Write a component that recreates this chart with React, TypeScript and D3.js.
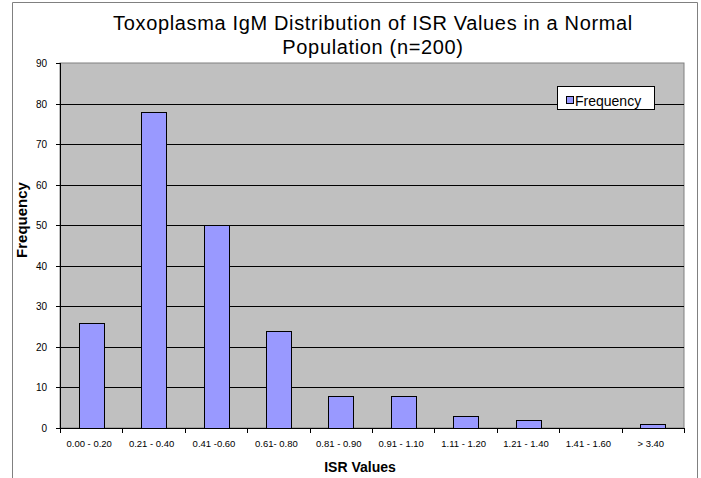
import React, { useEffect, useRef } from 'react';
import * as d3 from 'd3';

const categories = [
  '0.00 - 0.20',
  '0.21 - 0.40',
  '0.41 -0.60',
  '0.61- 0.80',
  '0.81 - 0.90',
  '0.91 - 1.10',
  '1.11 - 1.20',
  '1.21 - 1.40',
  '1.41 - 1.60',
  '> 3.40',
];
const frequency = [26, 78, 50, 24, 8, 8, 3, 2, 0, 1];
const yTicks = [0, 10, 20, 30, 40, 50, 60, 70, 80, 90];

const titleLines = [
  'Toxoplasma IgM Distribution of ISR Values in a Normal',
  'Population (n=200)',
];

export default function App() {
  const svgRef = useRef<SVGSVGElement>(null);

  useEffect(() => {
    if (!svgRef.current) return;
    const svg = d3.select(svgRef.current);
    const width = 701;
    const height = 478;
    const plot = { left: 60, right: 684, top: 63, bottom: 428 };
    const font = 'Liberation Sans, Arial, sans-serif';
    const narrow = 'Liberation Sans Narrow, Liberation Sans, Arial, sans-serif';

    svg.selectAll('*').remove();
    svg.attr('width', width).attr('height', height);

    svg.append('rect')
      .attr('width', width).attr('height', height)
      .attr('fill', '#fff');

    // chart area border (open at the bottom)
    svg.append('path')
      .attr('d', `M12.5,${height} V2.5 H697.5 V${height}`)
      .attr('fill', 'none')
      .attr('stroke', '#808080');

    const x = d3.scaleBand<string>()
      .domain(categories)
      .range([plot.left, plot.right])
      .paddingInner(0.6)
      .paddingOuter(0.3);

    const y = d3.scaleLinear()
      .domain([0, 90])
      .range([plot.bottom, plot.top]);

    const rows = categories.map((c, i) => ({ c, v: frequency[i] }));

    // plot background
    svg.append('rect')
      .attr('x', plot.left).attr('y', plot.top)
      .attr('width', plot.right - plot.left)
      .attr('height', plot.bottom - plot.top)
      .attr('fill', '#c0c0c0')
      .attr('stroke', '#808080');

    // gridlines
    svg.append('g')
      .selectAll('line')
      .data(yTicks.filter(d => d > 0 && d < 90))
      .enter()
      .append('line')
      .attr('x1', plot.left).attr('x2', plot.right)
      .attr('y1', d => Math.round(y(d)) + 0.5)
      .attr('y2', d => Math.round(y(d)) + 0.5)
      .attr('stroke', '#000');

    // bars
    svg.append('g')
      .selectAll('rect')
      .data(rows.filter(d => d.v > 0))
      .enter()
      .append('rect')
      .attr('x', d => Math.round(x(d.c)!) + 0.5)
      .attr('y', d => Math.round(y(d.v)) + 0.5)
      .attr('width', Math.round(x.bandwidth()))
      .attr('height', d => Math.round(y(0)) - Math.round(y(d.v)))
      .attr('fill', '#9999ff')
      .attr('stroke', '#000');

    // y axis
    const yAxis = svg.append('g');
    yAxis.append('line')
      .attr('x1', plot.left + 0.5).attr('x2', plot.left + 0.5)
      .attr('y1', plot.top).attr('y2', plot.bottom)
      .attr('stroke', '#000');
    yTicks.forEach(t => {
      const ty = Math.round(y(t)) + 0.5;
      yAxis.append('line')
        .attr('x1', plot.left - 4).attr('x2', plot.left)
        .attr('y1', ty).attr('y2', ty)
        .attr('stroke', '#000');
      yAxis.append('text')
        .attr('x', 47).attr('y', ty + 3.5)
        .attr('text-anchor', 'end')
        .attr('font-family', narrow)
        .attr('font-size', 10)
        .text(t);
    });

    // x axis
    const xAxis = svg.append('g');
    xAxis.append('line')
      .attr('x1', plot.left).attr('x2', plot.right)
      .attr('y1', plot.bottom + 0.5).attr('y2', plot.bottom + 0.5)
      .attr('stroke', '#000');
    const step = x.step();
    d3.range(categories.length + 1).forEach(i => {
      const tx = Math.round(plot.left + i * step) + 0.5;
      xAxis.append('line')
        .attr('x1', tx).attr('x2', tx)
        .attr('y1', plot.bottom).attr('y2', plot.bottom + 5)
        .attr('stroke', '#000');
    });
    categories.forEach(c => {
      xAxis.append('text')
        .attr('x', x(c)! + x.bandwidth() / 2 - 2)
        .attr('y', 447)
        .attr('text-anchor', 'middle')
        .attr('font-family', narrow)
        .attr('font-size', 9.5)
        .text(c);
    });

    // titles
    titleLines.forEach((line, i) => {
      svg.append('text')
        .attr('x', 373)
        .attr('y', 30 + i * 24)
        .attr('text-anchor', 'middle')
        .attr('font-family', font)
        .attr('font-size', 20)
        .attr('letter-spacing', 0.65)
        .text(line);
    });

    svg.append('text')
      .attr('x', 360)
      .attr('y', 472)
      .attr('text-anchor', 'middle')
      .attr('font-family', font)
      .attr('font-weight', 'bold')
      .attr('font-size', 14)
      .text('ISR Values');

    svg.append('text')
      .attr('transform', 'translate(27,220) rotate(-90)')
      .attr('text-anchor', 'middle')
      .attr('font-family', font)
      .attr('font-weight', 'bold')
      .attr('font-size', 15)
      .text('Frequency');

    // legend
    const legend = svg.append('g');
    legend.append('rect')
      .attr('x', 557.5).attr('y', 86.5)
      .attr('width', 97).attr('height', 23)
      .attr('fill', '#fff')
      .attr('stroke', '#000');
    legend.append('rect')
      .attr('x', 566.5).attr('y', 96.5)
      .attr('width', 7).attr('height', 7)
      .attr('fill', '#9999ff')
      .attr('stroke', '#000');
    legend.append('text')
      .attr('x', 575).attr('y', 106)
      .attr('font-family', font)
      .attr('font-size', 14)
      .text('Frequency');
  }, []);

  return (
    <div style={{ position: 'absolute', left: 0, top: 0 }}>
      <svg ref={svgRef} style={{ display: 'block' }} />
    </div>
  );
}
